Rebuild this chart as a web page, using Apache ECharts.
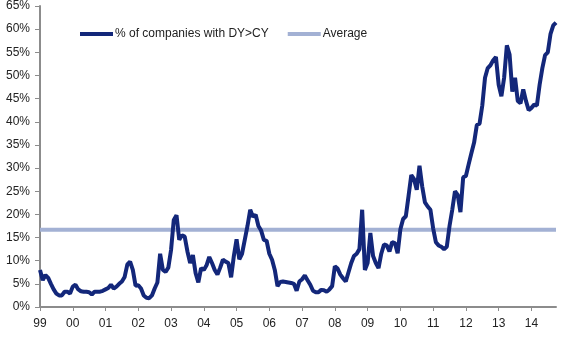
<!DOCTYPE html>
<html>
<head>
<meta charset="utf-8">
<script src="https://cdn.jsdelivr.net/npm/echarts@6/dist/echarts.min.js"></script>
<style>html,body{margin:0;padding:0;background:#fff;}#c{width:572px;height:339px;}</style>
</head>
<body>
<div id="c"></div>
<script>
// Monthly observations, Jan 1999 .. Oct 2014 (% of companies with DY>CY)
const startYear = 1999;
const pctDY = [
  // 1999
  8.0, 5.8, 6.9, 6.3, 5.0, 3.8, 2.9, 2.5, 2.5, 3.3, 3.3, 2.9,
  // 2000
  4.4, 4.8, 3.8, 3.4, 3.3, 3.3, 3.2, 2.7, 3.3, 3.3, 3.3, 3.5,
  // 2001
  3.8, 4.1, 4.8, 4.0, 4.4, 5.0, 5.5, 6.5, 9.2, 9.8, 8.0, 4.6,
  // 2002
  4.7, 4.0, 2.5, 2.0, 1.9, 2.5, 4.0, 5.3, 11.5, 8.0, 7.6, 8.5,
  // 2003
  12.3, 18.8, 19.8, 14.5, 15.5, 15.2, 12.0, 9.5, 11.2, 7.3, 5.3, 8.4,
  // 2004
  8.0, 9.0, 10.8, 9.5, 8.0, 7.0, 8.5, 10.2, 9.8, 9.5, 6.4, 11.0,
  // 2005
  14.6, 10.3, 11.5, 14.5, 17.5, 21.0, 19.5, 19.9, 17.5, 16.5, 14.5, 14.3,
  // 2006
  11.5, 10.2, 8.0, 4.5, 5.4, 5.5, 5.4, 5.3, 5.2, 5.0, 3.5, 5.5,
  // 2007
  6.0, 6.8, 5.8, 4.8, 3.5, 3.2, 3.2, 3.7, 3.6, 3.3, 3.8, 4.5,
  // 2008
  8.8, 8.3, 7.0, 6.2, 5.5, 7.5, 9.5, 11.0, 11.5, 12.5, 21.0, 8.0,
  // 2009
  9.5, 16.0, 11.0, 9.5, 8.4, 11.5, 13.5, 13.3, 12.0, 14.0, 13.8, 11.6,
  // 2010
  16.8, 19.0, 19.6, 24.0, 28.5, 27.6, 25.3, 30.5, 26.0, 22.6, 21.7, 21.0,
  // 2011
  17.0, 14.0, 13.3, 13.0, 12.5, 13.0, 17.5, 21.0, 25.0, 24.2, 20.5, 28.0,
  // 2012
  28.3, 30.8, 33.2, 35.5, 39.3, 39.6, 43.5, 49.5, 51.6, 52.2, 53.3, 54.0,
  // 2013
  48.0, 45.5, 49.5, 56.5, 54.5, 46.5, 49.5, 44.5, 44.0, 47.0, 44.5, 42.5,
  // 2014
  43.0, 43.7, 43.5, 48.0, 51.6, 54.4, 55.0, 59.0, 60.8, 61.4
];
const averageValue = 16.7;
const yearLabels = ['99','00','01','02','03','04','05','06','07','08','09','10','11','12','13','14'];
const seriesNames = ['% of companies with DY>CY', 'Average'];

const months = pctDY.map((v, i) => {
  const y = startYear + Math.floor(i / 12);
  const m = (i % 12) + 1;
  return y + '-' + (m < 10 ? '0' + m : m);
});
const avgData = months.map(() => averageValue);

const chart = echarts.init(document.getElementById('c'));
const font = '"Liberation Sans", Arial, sans-serif';
chart.setOption({
  animation: false,
  backgroundColor: '#fff',
  grid: { left: 40, right: 16, top: 6, bottom: 32 },
  legend: {
    left: 80, top: 28, padding: 0,
    icon: 'rect', itemWidth: 33, itemHeight: 4, itemGap: 19,
    textStyle: { fontFamily: font, fontSize: 12, color: '#222', padding: [0, 0, 0, -3] },
    data: seriesNames
  },
  xAxis: {
    type: 'category',
    data: months,
    boundaryGap: false,
    axisLine: { lineStyle: { color: '#8c8c8c', width: 2 } },
    axisTick: { show: true, length: 4, interval: (i) => i % 12 === 0, lineStyle: { color: '#8c8c8c', width: 1 } },
    axisLabel: {
      interval: (i) => i % 12 === 0,
      formatter: (v, i) => yearLabels[Math.floor(i / 12)],
      fontFamily: font, fontSize: 12, color: '#222', margin: 11
    },
    splitLine: { show: false }
  },
  yAxis: {
    type: 'value',
    min: 0, max: 65, interval: 5,
    axisLine: { show: true, lineStyle: { color: '#8c8c8c', width: 2 } },
    axisTick: { show: true, length: 5, lineStyle: { color: '#8c8c8c', width: 1 } },
    axisLabel: { formatter: '{value}%', fontFamily: font, fontSize: 12, color: '#222', margin: 10 },
    splitLine: { show: false }
  },
  series: [
    {
      name: seriesNames[0], type: 'line', data: pctDY,
      symbol: 'none', smooth: false, z: 3,
      lineStyle: { color: '#13277a', width: 4 },
      itemStyle: { color: '#13277a' }
    },
    {
      name: seriesNames[1], type: 'line', data: avgData,
      symbol: 'none', z: 2,
      lineStyle: { color: '#a3b1d4', width: 4 },
      itemStyle: { color: '#a3b1d4' }
    }
  ]
});
</script>
</body>
</html>
